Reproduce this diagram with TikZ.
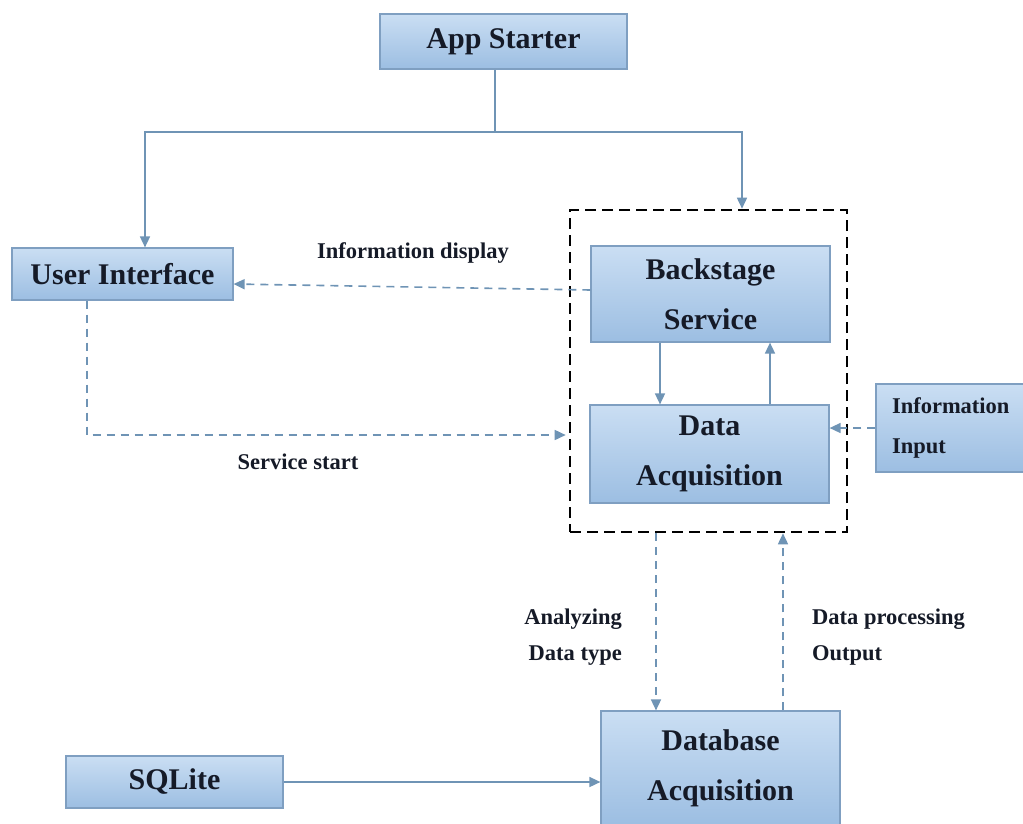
\documentclass[tikz,border=0pt]{standalone}
\usepackage{fontspec}
\setmainfont{Liberation Serif}
\usetikzlibrary{arrows.meta}
\definecolor{boxtop}{HTML}{CADEF3}
\definecolor{boxbot}{HTML}{9CBEE2}
\definecolor{boxedge}{HTML}{7F9FC1}
\definecolor{link}{HTML}{6F94B5}
\definecolor{ink}{HTML}{151A27}
\begin{document}
\begin{tikzpicture}[x=1pt,y=-1pt,
  block/.style={draw=boxedge, line width=1.2pt, top color=boxtop, bottom color=boxbot,
    text=ink, font=\bfseries\fontsize{30}{50}\selectfont, align=center, inner sep=0pt},
  note/.style={text=ink, font=\bfseries\fontsize{22.5}{36}\selectfont, inner sep=0pt},
  flow/.style={draw=link, line width=1.6pt, -{Triangle[length=11pt,width=10pt]}},
  dflow/.style={flow, dash pattern=on 8pt off 6pt},
  group/.style={draw=black, line width=2.6pt, dash pattern=on 11pt off 6pt, inner sep=0pt}]
\useasboundingbox (0,0) rectangle (1023,823);

% dashed frame around the service pair
\node[group, minimum width=277pt, minimum height=322pt] (grp) at (708.5,371) {};

% boxes
\node[block, minimum width=247pt, minimum height=55pt] (app) at (503.5,41.5) {App Starter};
\node[block, minimum width=221pt, minimum height=52pt] (ui) at (122.5,274) {User Interface};
\node[block, minimum width=239pt, minimum height=96pt] (bs) at (710.5,294) {Backstage\\Service};
\node[block, minimum width=239pt, minimum height=98pt] (da) at (709.5,454) {Data\\Acquisition};
\node[block, minimum width=164pt, minimum height=88pt, text width=132pt, align=left,
  font=\bfseries\fontsize{22.5}{40}\selectfont] (info) at (958,428) {Information\\Input};
\node[block, minimum width=239pt, minimum height=114pt] (db) at (720.5,768) {Database\\Acquisition};
\node[block, minimum width=217pt, minimum height=52pt] (sql) at (174.5,782) {SQLite};

% labels
\node[note] (lblshow) at (413,253) {Information display};
\node[note] (lblstart) at (298,462) {Service start};
\node[note, align=right, anchor=east] (lblana) at (622,637) {Analyzing\\Data type};
\node[note, align=left, anchor=west] (lblout) at (812,637) {Data processing\\Output};

% start-up tree
\coordinate (split) at (495,132);
\coordinate (jL) at (145,132);
\coordinate (jR) at (742,132);
\draw[draw=link, line width=1.6pt] (app.south -| split) -- (split);
\draw[flow] (split) -- (jL) -- (jL |- ui.north);
\draw[flow] (split) -- (jR) -- (jR |- grp.north);

% information display
\draw[dflow] ([yshift=4pt]bs.west) -- ([yshift=-10pt]ui.east);

% service start
\coordinate (sc) at (87,435);
\draw[dflow] (ui.south -| sc) -- (sc) -- ([xshift=-3pt]sc -| grp.west);

% backstage <-> acquisition
\coordinate (dn) at (660,0);
\coordinate (up) at (770,0);
\draw[flow] (bs.south -| dn) -- (da.north -| dn);
\draw[flow] (da.north -| up) -- (bs.south -| up);

% information input
\draw[dflow] (info.west) -- (da.east |- info.west);

% database traffic
\coordinate (qd) at (656,0);
\coordinate (qu) at (783,0);
\draw[dflow] (grp.south -| qd) -- (db.north -| qd);
\draw[dflow] (db.north -| qu) -- (grp.south -| qu);

% SQLite feed
\draw[flow] (sql.east) -- (db.west |- sql.east);
\end{tikzpicture}
\end{document}
